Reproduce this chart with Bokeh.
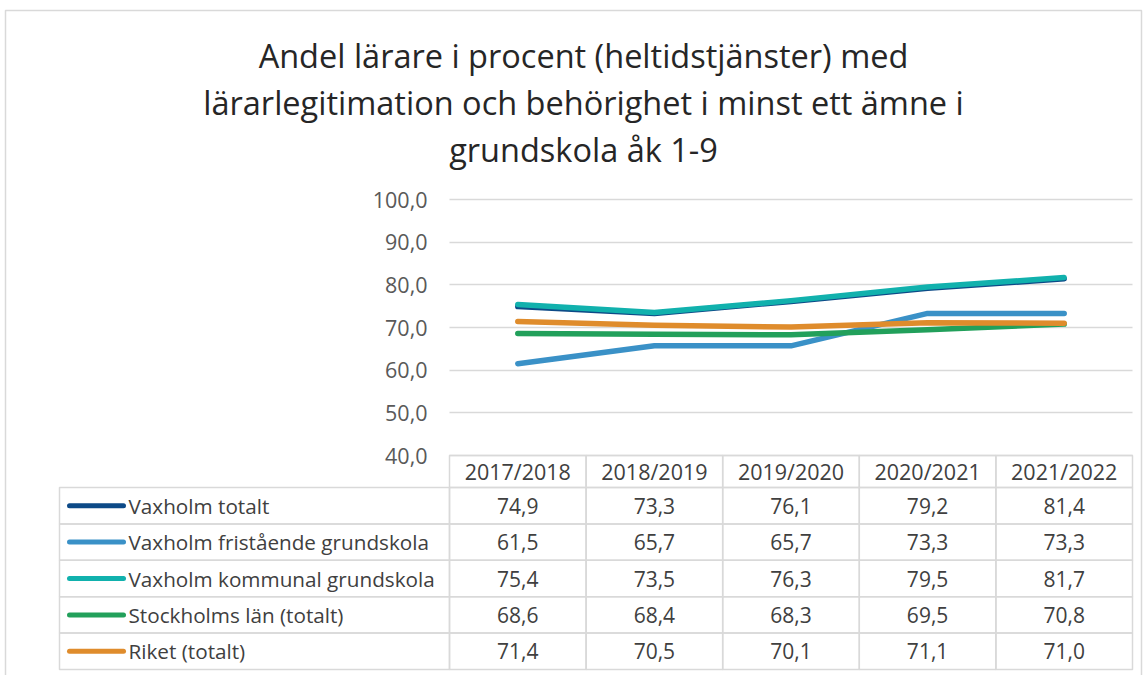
from bokeh.plotting import figure
from bokeh.models import Range1d, LinearAxis, FixedTicker, Grid, CustomJSTickFormatter
from bokeh.core.properties import value
from bokeh.embed import file_html
from bokeh.resources import INLINE

# ---------------- data ----------------
categories = ["2017/2018", "2018/2019", "2019/2020", "2020/2021", "2021/2022"]
series_names = [
    "Vaxholm totalt",
    "Vaxholm fristående grundskola",
    "Vaxholm kommunal grundskola",
    "Stockholms län (totalt)",
    "Riket (totalt)",
]
vaxholm_totalt = [74.9, 73.3, 76.1, 79.2, 81.4]
vaxholm_fristaende = [61.5, 65.7, 65.7, 73.3, 73.3]
vaxholm_kommunal = [75.4, 73.5, 76.3, 79.5, 81.7]
stockholms_lan = [68.6, 68.4, 68.3, 69.5, 70.8]
riket = [71.4, 70.5, 70.1, 71.1, 71.0]
y_ticks = [40, 50, 60, 70, 80, 90, 100]
title_lines = [
    "Andel lärare i procent (heltidstjänster) med",
    "lärarlegitimation och behörighet i minst ett ämne i",
    "grundskola åk 1-9",
]

series_values = [vaxholm_totalt, vaxholm_fristaende, vaxholm_kommunal, stockholms_lan, riket]
colors = ["#0d4a87", "#3a91c7", "#11b1ad", "#22a05b", "#df8c2c"]

FONT = "Open Sans"
GRID = "#d9d9d9"

# ---------------- layout (page pixels) ----------------
W, H = 1147, 675
PAGE = 0
PL, PR = 449, 1132          # plot area left/right
P100, P40 = 199, 455        # pixel rows of 100 and 40
ncat = len(categories)
col_w = (PR - PL) / ncat
unit = (P40 - P100) / (y_ticks[-1] - y_ticks[0])


def X(px):
    return (px - PL) / col_w


def Y(py):
    return y_ticks[0] + (P40 - py) / unit


p = figure(width=W, height=H,
           x_range=Range1d(X(PAGE), X(PAGE + W)),
           y_range=Range1d(Y(PAGE + H), Y(PAGE)),
           x_axis_location=None, y_axis_location=None,
           toolbar_location=None, output_backend="svg",
           min_border=0, outline_line_color=None,
           background_fill_color="white", border_fill_color="white")
for g in p.grid:
    g.visible = False

# chart border (left, top, right)
p.line(x=[X(5), X(5), X(1141), X(1141)], y=[Y(PAGE + H + 5), Y(10), Y(10), Y(PAGE + H + 5)],
       line_color=GRID, line_width=1.5)

# title
title_y = [55, 102, 149]
p.text(x=[X(583)] * 3, y=[Y(v) for v in title_y], text=title_lines,
       text_align="center", text_baseline="middle",
       text_font=value(FONT), text_font_size="32.5px", text_color="#262626")

# gridlines
if "cross_bounds" in Grid.properties():
    grid = Grid(dimension=1, ticker=FixedTicker(ticks=y_ticks), cross_bounds=(0, ncat),
                grid_line_color=GRID, grid_line_width=1.5)
    p.add_layout(grid)
else:
    p.segment(x0=[0] * len(y_ticks), x1=[ncat] * len(y_ticks), y0=y_ticks, y1=y_ticks,
              line_color=GRID, line_width=1.5)

# y axis
yaxis = LinearAxis(ticker=FixedTicker(ticks=y_ticks), fixed_location=0,
                   formatter=CustomJSTickFormatter(code="return tick.toFixed(1).replace('.', ',');"),
                   axis_line_color=None, major_tick_line_color=None, minor_tick_line_color=None,
                   major_tick_out=0, major_tick_in=0, major_label_standoff=22,
                   major_label_text_font=FONT, major_label_text_font_size="21.5px",
                   major_label_text_color="#595959")
p.add_layout(yaxis, "left")

# x axis (header row of the data table)
xs = [i + 0.5 for i in range(ncat)]
xaxis = LinearAxis(ticker=FixedTicker(ticks=xs), fixed_location=y_ticks[0],
                   formatter=CustomJSTickFormatter(args=dict(labels=categories),
                                                   code="return labels[Math.floor(tick)];"),
                   axis_line_color=None, major_tick_line_color=None, minor_tick_line_color=None,
                   major_tick_out=0, major_tick_in=0, major_label_standoff=1,
                   major_label_text_font=FONT, major_label_text_font_size="21.5px",
                   major_label_text_color="#404040")
p.add_layout(xaxis, "below")

# series lines
for vals, c in zip(series_values, colors):
    p.line(x=xs, y=vals, line_width=5.5, line_color=c, line_cap="round", line_join="round")

# ---------------- data table ----------------
T_LEFT = 59
HDR_TOP, HDR_BOT = 455, 487
ROW_H = 36.4
nrows = len(series_names)
row_tops = [HDR_BOT + k * ROW_H for k in range(nrows)]
row_mid = [Y(t + ROW_H / 2) for t in row_tops]

# header cells
p.quad(left=list(range(ncat)), right=[i + 1 for i in range(ncat)],
       top=[Y(HDR_TOP)] * ncat, bottom=[Y(HDR_BOT)] * ncat,
       fill_color=None, line_color=GRID, line_width=1.5)
# legend cells
p.quad(left=[X(T_LEFT)] * nrows, right=[0] * nrows,
       top=[Y(t) for t in row_tops], bottom=[Y(t + ROW_H) for t in row_tops],
       fill_color=None, line_color=GRID, line_width=1.5)
# value cells
cl, cr, ct, cb = [], [], [], []
vx, vy, vt = [], [], []
for r, vals in enumerate(series_values):
    for i, v in enumerate(vals):
        cl.append(i); cr.append(i + 1)
        ct.append(Y(row_tops[r])); cb.append(Y(row_tops[r] + ROW_H))
        vx.append(i + 0.5); vy.append(row_mid[r])
        vt.append(f"{v:.1f}".replace(".", ","))
p.quad(left=cl, right=cr, top=ct, bottom=cb, fill_color=None, line_color=GRID, line_width=1.5)
p.text(x=vx, y=vy, text=vt, text_align="center", text_baseline="middle",
       text_font=value(FONT), text_font_size="21px", text_color="#404040")

# legend keys and names
p.segment(x0=[X(69)] * nrows, x1=[X(123)] * nrows, y0=row_mid, y1=row_mid,
          line_color=colors, line_width=5, line_cap="round")
p.text(x=[X(128)] * nrows, y=row_mid, text=series_names, text_align="left", text_baseline="middle",
       text_font=value(FONT), text_font_size="20.7px", text_color="#404040")

open("out.html", "w").write(file_html(p, INLINE))
